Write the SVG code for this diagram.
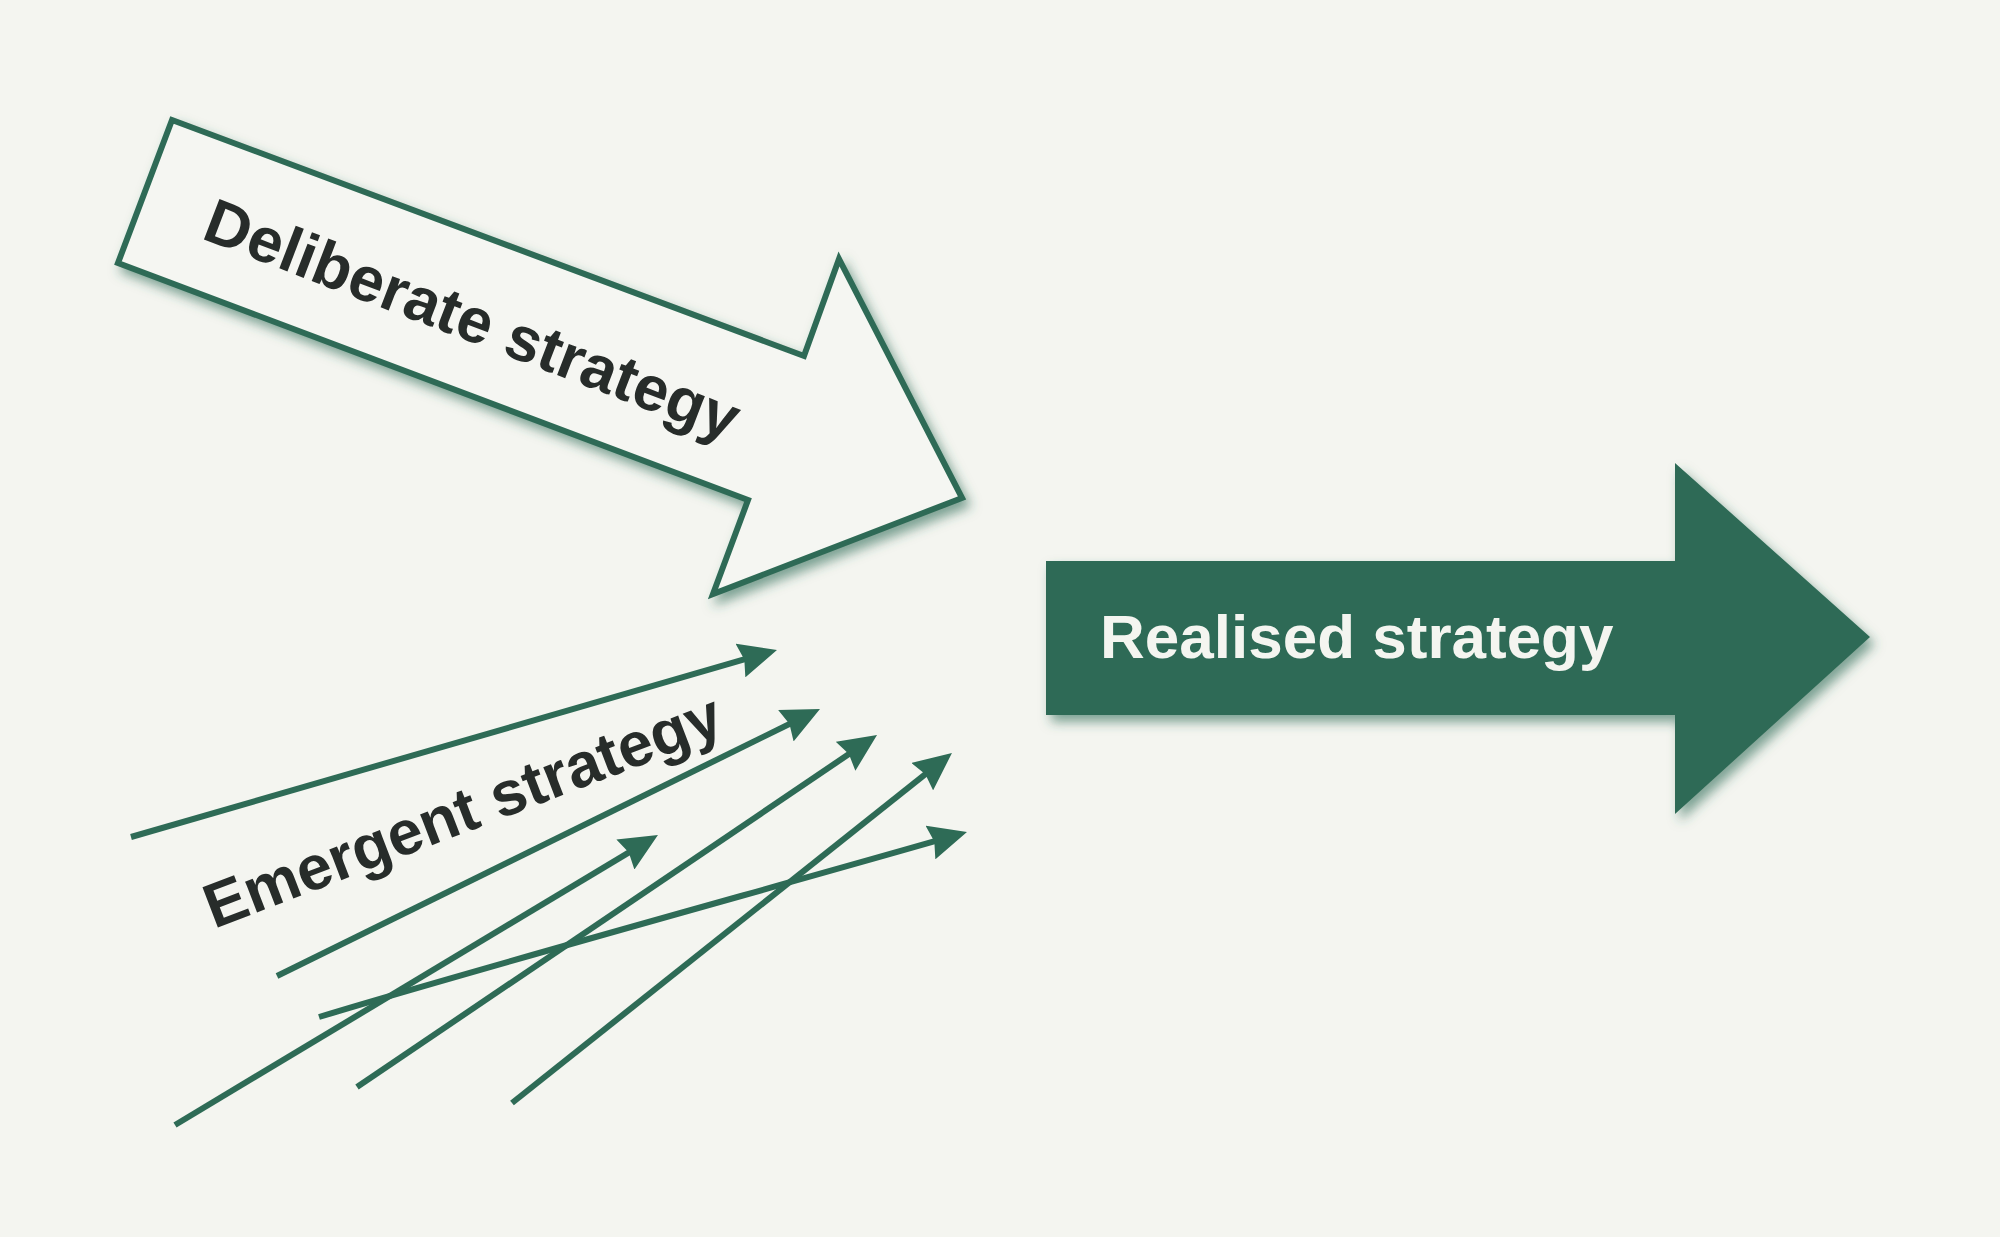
<svg xmlns="http://www.w3.org/2000/svg" width="2000" height="1237" viewBox="0 0 2000 1237">
<style>
.bg{fill:#f4f5f0}
.lbl{font-family:"Liberation Sans",Arial,Helvetica,sans-serif;font-weight:bold}
.dark{fill:#272c2a}
.light{fill:#f4f5f0}
.conn{fill:none;stroke:#2e6b56;stroke-width:6;stroke-linecap:butt}
</style>
<defs>
<filter id="shadow" x="-10%" y="-20%" width="130%" height="150%">
<feDropShadow dx="5" dy="7" stdDeviation="6" flood-color="#2e6b56" flood-opacity="0.6"/>
</filter>
<marker id="head" markerUnits="userSpaceOnUse" viewBox="0 0 38 35" markerWidth="38" markerHeight="35" refX="30" refY="17.5" orient="auto">
<path d="M0,0 L38,17.5 L0,35 L4,17.5 Z" fill="#2e6b56"/>
</marker>
</defs>
<rect class="bg" x="0" y="0" width="2000" height="1237"/>
<g id="deliberate">
<polygon points="172,120 804,356 839,259 962,498 713,594 748,500 118,263" fill="#f5f6f2" stroke="#2e6b56" stroke-width="6" stroke-linejoin="miter" filter="url(#shadow)"/>
<text class="lbl dark" x="200" y="238" font-size="63" transform="rotate(21 200 238)">Deliberate strategy</text>
</g>
<g id="realised">
<polygon points="1046,561 1675,561 1675,463 1870,637 1675,814 1675,715 1046,715" fill="#2e6b56" filter="url(#shadow)"/>
<text class="lbl light" x="1100" y="658" font-size="62">Realised strategy</text>
</g>
<g id="emergent">
<text class="lbl dark" x="214" y="929" font-size="62.5" transform="rotate(-21 214 929)">Emergent strategy</text>
</g>
<g id="connectors">
<path class="conn" d="M131,837 L769.3,652.2" marker-end="url(#head)"/>
<path class="conn" d="M277,976 L812.8,712.5" marker-end="url(#head)"/>
<path class="conn" d="M175,1125 L651.1,839.1" marker-end="url(#head)"/>
<path class="conn" d="M357,1087 L870.4,739.5" marker-end="url(#head)"/>
<path class="conn" d="M512,1103 L945.7,758" marker-end="url(#head)"/>
<path class="conn" d="M319,1017 C469,971 815,876 959.3,834.2" marker-end="url(#head)"/>
</g>
</svg>
